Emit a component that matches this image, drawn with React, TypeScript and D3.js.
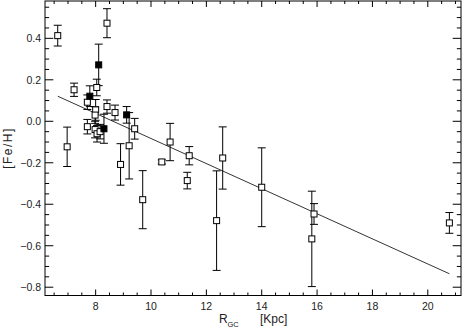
import React from "react";
import * as d3 from "d3";

// Open squares: Galactocentric radius (kpc), [Fe/H], error
const openR = [6.63, 6.97, 7.22, 7.70, 7.70, 8.04, 8.00, 7.98, 7.98, 8.05, 8.16, 8.41, 8.41, 8.70, 9.41, 9.21, 8.90, 9.70, 10.39, 10.69, 11.38, 11.31, 12.37, 12.59, 14.0, 15.81, 15.89, 20.78];
const openFeH = [0.413, -0.123, 0.152, 0.092, -0.026, 0.163, 0.055, 0.03, -0.04, -0.06, -0.05, 0.473, 0.071, 0.042, -0.036, -0.118, -0.208, -0.378, -0.196, -0.10, -0.166, -0.286, -0.479, -0.177, -0.318, -0.567, -0.447, -0.49];
const openErr = [0.05, 0.095, 0.032, 0.035, 0.035, 0.04, 0.05, 0.04, 0.04, 0.04, 0.035, 0.07, 0.032, 0.036, 0.05, 0.16, 0.10, 0.14, 0.01, 0.09, 0.044, 0.04, 0.24, 0.15, 0.19, 0.23, 0.05, 0.05];

// Filled squares
const filledR = [7.79, 8.11, 9.12, 8.30];
const filledFeH = [0.121, 0.272, 0.031, -0.036];
const filledErr = [0.05, 0.10, 0.04, 0.07];

// Linear fit
const fitIntercept = 0.522;
const fitSlope = -0.0605;
const fitRange = [6.63, 20.78];

const xTicks = [8, 10, 12, 14, 16, 18, 20];
const yTicks = [0.4, 0.2, 0.0, -0.2, -0.4, -0.6, -0.8];

const W = 462;
const H = 329;
const L = 45, R = 461, T = 1, B = 295.5;

export default function App() {
  const x = d3.scaleLinear().domain([6.17, 21.2]).range([L, R]);
  const y = d3.scaleLinear().domain([-0.84, 0.58]).range([B, T]);

  const xMinor = d3.range(6.5, 21.2, 0.5).filter((v) => x(v) > L + 1 && x(v) < R - 1);
  const yMinor = d3.range(-0.8, 0.58, 0.05).filter((v) => y(v) > T + 1 && y(v) < B - 1);
  const isMajorX = (v: number) => Math.abs(v / 2 - Math.round(v / 2)) < 1e-6;
  const isMajorY = (v: number) => Math.abs(v / 0.2 - Math.round(v / 0.2)) < 1e-6;

  const xTickLen = 6, yTickLen = 8.3;
  const fmt = (v: number) => (v < -1e-9 ? "\u2212" : "") + Math.abs(v).toFixed(1);

  const line = d3.line<number>().x((r) => x(r)).y((r) => y(fitIntercept + fitSlope * r));
  const s = 3; // square half size
  const cap = 4;

  const errBar = (r: number, v: number, e: number, k: string) => (
    <g key={k} stroke="#000" strokeWidth={1}>
      <line x1={x(r)} x2={x(r)} y1={y(v + e)} y2={y(v - e)} />
      <line x1={x(r) - cap} x2={x(r) + cap} y1={y(v + e)} y2={y(v + e)} />
      <line x1={x(r) - cap} x2={x(r) + cap} y1={y(v - e)} y2={y(v - e)} />
    </g>
  );

  return (
    <svg width={W} height={H} style={{ position: "fixed", left: 0, top: 0, background: "#fff" }}
      fontFamily="'Liberation Sans', Arial, sans-serif">
      <rect x={0} y={0} width={W} height={H} fill="#fff" />
      {/* frame */}
      <rect x={L} y={T} width={R - L} height={B - T} fill="none" stroke="#000" strokeWidth={1} />
      {/* x ticks */}
      {xMinor.map((v, i) => {
        const len = isMajorX(v) ? xTickLen : xTickLen / 2;
        return (
          <g key={"xt" + i} stroke="#000" strokeWidth={1}>
            <line x1={x(v)} x2={x(v)} y1={B} y2={B - len} />
            <line x1={x(v)} x2={x(v)} y1={T} y2={T + len} />
          </g>
        );
      })}
      {yMinor.map((v, i) => {
        const len = isMajorY(v) ? yTickLen : yTickLen / 2;
        return (
          <g key={"yt" + i} stroke="#000" strokeWidth={1}>
            <line x1={L} x2={L + len} y1={y(v)} y2={y(v)} />
            <line x1={R} x2={R - len} y1={y(v)} y2={y(v)} />
          </g>
        );
      })}
      {/* tick labels */}
      {xTicks.map((v) => (
        <text key={"xl" + v} x={x(v)} y={310} fontSize={10.5} fill="#222" textAnchor="middle">{v}</text>
      ))}
      {yTicks.map((v) => (
        <text key={"yl" + v} x={41} y={y(v) + 3.8} fontSize={10.5} fill="#222" textAnchor="end">{fmt(v)}</text>
      ))}
      {/* axis titles */}
      <text x={219} y={322.5} fontSize={12} fill="#222">R</text>
      <text x={227.5} y={327} fontSize={7.5} fill="#222">GC</text>
      <text x={260} y={323} fontSize={12} fill="#222">[Kpc]</text>
      <text transform={`translate(12,148) rotate(-90)`} fontSize={12} fill="#222" textAnchor="middle" letterSpacing={1.5}>[Fe/H]</text>
      {/* fit line */}
      <path d={line(fitRange) || ""} fill="none" stroke="#000" strokeWidth={0.8} />
      {/* error bars */}
      {openR.map((r, i) => errBar(r, openFeH[i], openErr[i], "oe" + i))}
      {filledR.map((r, i) => errBar(r, filledFeH[i], filledErr[i], "fe" + i))}
      {/* markers */}
      {openR.map((r, i) => (
        <rect key={"o" + i} x={x(r) - s} y={y(openFeH[i]) - s} width={2 * s} height={2 * s} fill="#fff" stroke="#000" strokeWidth={1} />
      ))}
      {filledR.map((r, i) => (
        <rect key={"f" + i} x={x(r) - s} y={y(filledFeH[i]) - s} width={2 * s} height={2 * s} fill="#000" stroke="#000" strokeWidth={1} />
      ))}
    </svg>
  );
}
